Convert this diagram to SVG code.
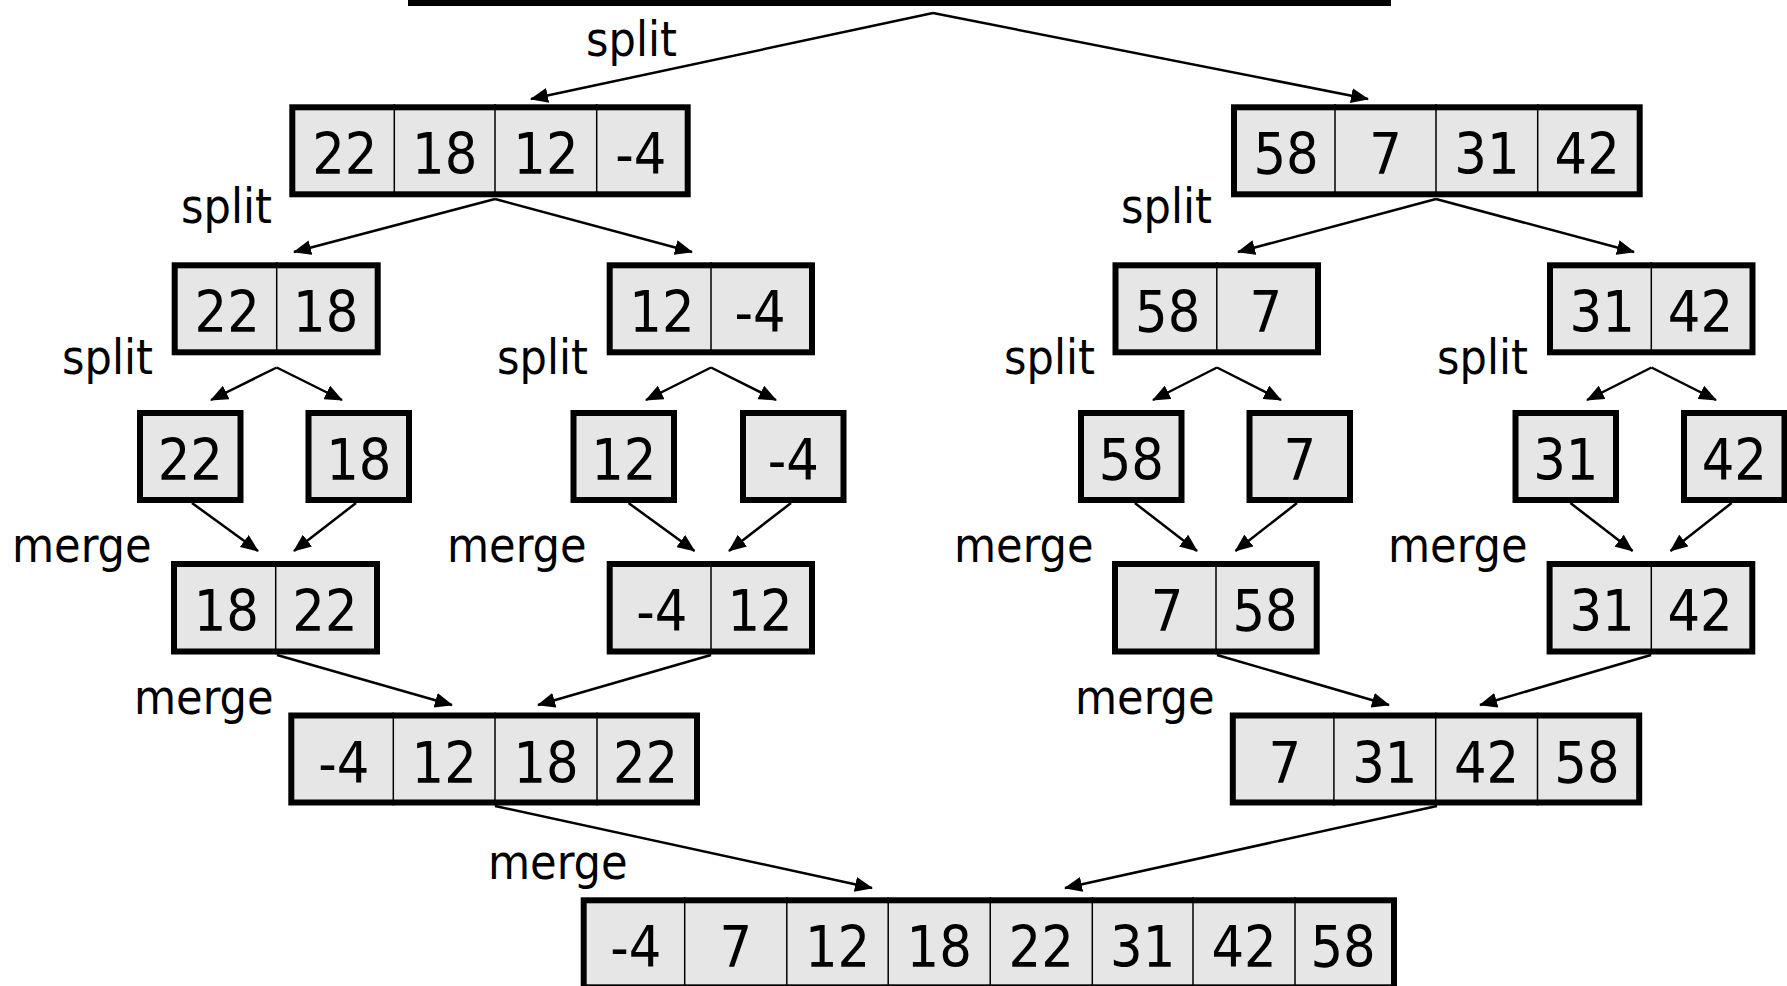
<svg xmlns="http://www.w3.org/2000/svg" width="1787" height="986" viewBox="0 0 1787 986">
<style>
.box{fill:#e6e6e6;stroke:#000;stroke-width:6}
.dv{stroke:#000;stroke-width:1.5}
.num{font-family:"DejaVu Sans Condensed","DejaVu Sans",sans-serif;font-stretch:condensed;font-size:57px;text-anchor:middle;fill:#000}
.lbl{font-family:"DejaVu Sans Condensed","DejaVu Sans",sans-serif;font-stretch:condensed;font-size:48px;fill:#000}
.arr{stroke:#000;stroke-width:2.5;fill:none;marker-end:url(#ah)}
</style>
<defs>
<marker id="ah" viewBox="0 0 18 15" refX="17" refY="7.5" markerWidth="18" markerHeight="15" markerUnits="userSpaceOnUse" orient="auto">
<path d="M0,0 L18,7.5 L0,15 z" fill="#000"/>
</marker>
</defs>
<rect width="1787" height="986" fill="#fff"/>

<g id="connectors">
<line class="arr" x1="933" y1="13" x2="531" y2="99"/>
<line class="arr" x1="933" y1="13" x2="1368" y2="99"/>
<line class="arr" x1="495" y1="199" x2="294" y2="252"/>
<line class="arr" x1="495" y1="199" x2="692" y2="252"/>
<line class="arr" x1="1436" y1="199" x2="1238" y2="252"/>
<line class="arr" x1="1436" y1="199" x2="1634" y2="252"/>
<line class="arr" x1="276.7" y1="367.5" x2="211" y2="400"/>
<line class="arr" x1="276.7" y1="367.5" x2="342" y2="400"/>
<line class="arr" x1="711" y1="367.5" x2="646" y2="400"/>
<line class="arr" x1="711" y1="367.5" x2="776" y2="400"/>
<line class="arr" x1="1217" y1="367.5" x2="1153" y2="400"/>
<line class="arr" x1="1217" y1="367.5" x2="1281" y2="400"/>
<line class="arr" x1="1651.5" y1="367.5" x2="1587" y2="400"/>
<line class="arr" x1="1651.5" y1="367.5" x2="1716" y2="400"/>
<line class="arr" x1="192" y1="503" x2="258" y2="551"/>
<line class="arr" x1="356" y1="503" x2="294" y2="551"/>
<line class="arr" x1="628.5" y1="503" x2="694.5" y2="551"/>
<line class="arr" x1="791" y1="503" x2="729" y2="551"/>
<line class="arr" x1="1134.8" y1="503" x2="1197" y2="551"/>
<line class="arr" x1="1297" y1="503" x2="1235.5" y2="551"/>
<line class="arr" x1="1570.4" y1="503" x2="1632.6" y2="551"/>
<line class="arr" x1="1731.6" y1="503" x2="1670.5" y2="551"/>
<line class="arr" x1="277" y1="655" x2="452" y2="705"/>
<line class="arr" x1="711" y1="655" x2="538" y2="705"/>
<line class="arr" x1="1217" y1="655" x2="1389" y2="705"/>
<line class="arr" x1="1651" y1="655" x2="1480" y2="705"/>
<line class="arr" x1="495" y1="806" x2="872" y2="888"/>
<line class="arr" x1="1437" y1="806" x2="1065" y2="888"/>
</g>

<g id="labels">
<text class="lbl" x="586" y="56">split</text>
<text class="lbl" x="181" y="223">split</text>
<text class="lbl" x="1121" y="223">split</text>
<text class="lbl" x="62" y="374">split</text>
<text class="lbl" x="497" y="374">split</text>
<text class="lbl" x="1004" y="374">split</text>
<text class="lbl" x="1437" y="374">split</text>
<text class="lbl" x="12" y="562">merge</text>
<text class="lbl" x="447" y="562">merge</text>
<text class="lbl" x="954" y="562">merge</text>
<text class="lbl" x="1388" y="562">merge</text>
<text class="lbl" x="134" y="714">merge</text>
<text class="lbl" x="1075" y="714">merge</text>
<text class="lbl" x="488" y="879">merge</text>
</g>

<g id="n-top"><rect class="box" x="411" y="-84" width="977" height="87"/></g>

<g id="n-l1a">
<rect class="box" x="292.3" y="107.3" width="395.4" height="87"/>
<line class="dv" x1="394.3" y1="104" x2="394.3" y2="197"/><line class="dv" x1="495" y1="104" x2="495" y2="197"/><line class="dv" x1="596.7" y1="104" x2="596.7" y2="197"/>
<text class="num" x="344.8" y="174.3">22</text><text class="num" x="444.7" y="174.3">18</text><text class="num" x="545.9" y="174.3">12</text><text class="num" x="640.7" y="174.3">-4</text>
</g>
<g id="n-l1b">
<rect class="box" x="1234" y="107.3" width="405.7" height="87"/>
<line class="dv" x1="1335" y1="104" x2="1335" y2="197"/><line class="dv" x1="1436" y1="104" x2="1436" y2="197"/><line class="dv" x1="1537.7" y1="104" x2="1537.7" y2="197"/>
<text class="num" x="1286" y="174.3">58</text><text class="num" x="1385.5" y="174.3">7</text><text class="num" x="1486.9" y="174.3">31</text><text class="num" x="1587.2" y="174.3">42</text>
</g>

<g id="n-l2a">
<rect class="box" x="174.7" y="265.3" width="203" height="87"/>
<line class="dv" x1="276.7" y1="262" x2="276.7" y2="355"/>
<text class="num" x="227.2" y="332.3">22</text><text class="num" x="325.7" y="332.3">18</text>
</g>
<g id="n-l2b">
<rect class="box" x="609.7" y="265.3" width="202.3" height="87"/>
<line class="dv" x1="711" y1="262" x2="711" y2="355"/>
<text class="num" x="661.9" y="332.3">12</text><text class="num" x="760" y="332.3">-4</text>
</g>
<g id="n-l2c">
<rect class="box" x="1115.5" y="265.3" width="202.5" height="87"/>
<line class="dv" x1="1216.8" y1="262" x2="1216.8" y2="355"/>
<text class="num" x="1167.7" y="332.3">58</text><text class="num" x="1265.9" y="332.3">7</text>
</g>
<g id="n-l2d">
<rect class="box" x="1550" y="265.3" width="202.5" height="87"/>
<line class="dv" x1="1651.3" y1="262" x2="1651.3" y2="355"/>
<text class="num" x="1602.2" y="332.3">31</text><text class="num" x="1700.4" y="332.3">42</text>
</g>

<g id="n-s1"><rect class="box" x="140" y="413" width="100.5" height="87"/><text class="num" x="190.3" y="480">22</text></g>
<g id="n-s2"><rect class="box" x="308.5" y="413" width="100.5" height="87"/><text class="num" x="358.8" y="480">18</text></g>
<g id="n-s3"><rect class="box" x="573.5" y="413" width="100.5" height="87"/><text class="num" x="623.8" y="480">12</text></g>
<g id="n-s4"><rect class="box" x="743" y="413" width="100.5" height="87"/><text class="num" x="793.3" y="480">-4</text></g>
<g id="n-s5"><rect class="box" x="1081" y="413" width="100.5" height="87"/><text class="num" x="1131.3" y="480">58</text></g>
<g id="n-s6"><rect class="box" x="1249.5" y="413" width="100.5" height="87"/><text class="num" x="1299.8" y="480">7</text></g>
<g id="n-s7"><rect class="box" x="1515.5" y="413" width="100.5" height="87"/><text class="num" x="1565.8" y="480">31</text></g>
<g id="n-s8"><rect class="box" x="1684" y="413" width="100.5" height="87"/><text class="num" x="1734.3" y="480">42</text></g>

<g id="n-m1a">
<rect class="box" x="174" y="564" width="203" height="87.5"/>
<line class="dv" x1="275.7" y1="561" x2="275.7" y2="654.5"/>
<text class="num" x="226.3" y="631">18</text><text class="num" x="324.9" y="631">22</text>
</g>
<g id="n-m1b">
<rect class="box" x="609.7" y="564" width="202.3" height="87.5"/>
<line class="dv" x1="711" y1="561" x2="711" y2="654.5"/>
<text class="num" x="661.9" y="631">-4</text><text class="num" x="760" y="631">12</text>
</g>
<g id="n-m1c">
<rect class="box" x="1115" y="564" width="201.7" height="87.5"/>
<line class="dv" x1="1216" y1="561" x2="1216" y2="654.5"/>
<text class="num" x="1167" y="631">7</text><text class="num" x="1265" y="631">58</text>
</g>
<g id="n-m1d">
<rect class="box" x="1549.6" y="564" width="202.7" height="87.5"/>
<line class="dv" x1="1651.3" y1="561" x2="1651.3" y2="654.5"/>
<text class="num" x="1602" y="631">31</text><text class="num" x="1700" y="631">42</text>
</g>

<g id="n-m2a">
<rect class="box" x="291.3" y="715.5" width="405.7" height="87"/>
<line class="dv" x1="393.3" y1="712.5" x2="393.3" y2="805.5"/><line class="dv" x1="495" y1="712.5" x2="495" y2="805.5"/><line class="dv" x1="597" y1="712.5" x2="597" y2="805.5"/>
<text class="num" x="343.8" y="782.5">-4</text><text class="num" x="444.2" y="782.5">12</text><text class="num" x="546" y="782.5">18</text><text class="num" x="645.5" y="782.5">22</text>
</g>
<g id="n-m2b">
<rect class="box" x="1232.8" y="715.5" width="406.4" height="87"/>
<line class="dv" x1="1333.9" y1="712.5" x2="1333.9" y2="805.5"/><line class="dv" x1="1435.7" y1="712.5" x2="1435.7" y2="805.5"/><line class="dv" x1="1537.5" y1="712.5" x2="1537.5" y2="805.5"/>
<text class="num" x="1284.9" y="782.5">7</text><text class="num" x="1384.8" y="782.5">31</text><text class="num" x="1486.6" y="782.5">42</text><text class="num" x="1586.9" y="782.5">58</text>
</g>

<g id="n-final">
<rect class="box" x="583.7" y="900.3" width="810.3" height="87"/>
<line class="dv" x1="684.7" y1="897" x2="684.7" y2="990"/><line class="dv" x1="786.8" y1="897" x2="786.8" y2="990"/><line class="dv" x1="888.2" y1="897" x2="888.2" y2="990"/><line class="dv" x1="990.2" y1="897" x2="990.2" y2="990"/><line class="dv" x1="1092.3" y1="897" x2="1092.3" y2="990"/><line class="dv" x1="1193" y1="897" x2="1193" y2="990"/><line class="dv" x1="1295" y1="897" x2="1295" y2="990"/>
<text class="num" x="635.7" y="967.3">-4</text><text class="num" x="735.8" y="967.3">7</text><text class="num" x="837.5" y="967.3">12</text><text class="num" x="939.2" y="967.3">18</text><text class="num" x="1041.2" y="967.3">22</text><text class="num" x="1142.7" y="967.3">31</text><text class="num" x="1244" y="967.3">42</text><text class="num" x="1343" y="967.3">58</text>
</g>
</svg>
